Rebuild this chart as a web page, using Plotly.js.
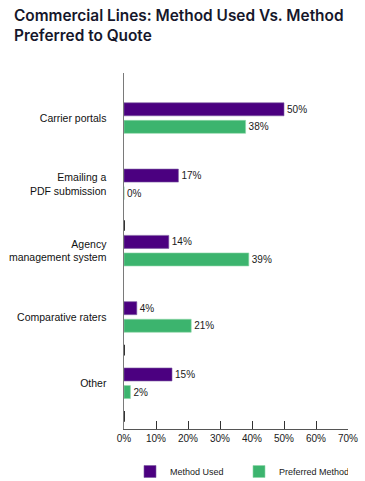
<!DOCTYPE html>
<html>
<head>
<meta charset="utf-8">
<script src="https://cdn.plot.ly/plotly-3.0.1.min.js"></script>
<style>html,body{margin:0;padding:0;background:#fff;}#chart{width:365px;height:481px;}</style>
</head>
<body>
<div id="chart"></div>
<script>
const categories = ["Carrier portals", "Emailing a<br>PDF submission", "Agency<br>management system", "Comparative raters", "Other"];
const methodUsed = [50, 17, 14, 4, 15];
const preferredMethod = [38, 0, 39, 21, 2];
const seriesNames = ["Method Used", "Preferred Method"];
const xTicks = [0, 10, 20, 30, 40, 50, 60, 70];

const labelFont = {family: "Liberation Sans, Arial, sans-serif", size: 10, color: "#1a1a1a"};

const traces = [
  {type: "bar", orientation: "h", name: seriesNames[0], y: categories, x: methodUsed,
   marker: {color: "#4b0080", line: {color: "#7a5aa0", width: 0.6}},
   text: methodUsed.map(v => v + "%"), textposition: "outside", textfont: labelFont, cliponaxis: false,
   hoverinfo: "x+name"},
  {type: "bar", orientation: "h", name: seriesNames[1], y: categories, x: preferredMethod,
   marker: {color: "#3cb46e", line: {color: "#8fd6a8", width: 0.6}},
   text: preferredMethod.map(v => v + "%"), textposition: "outside", textfont: labelFont, cliponaxis: false,
   hoverinfo: "x+name"}
];

const boundaryMarks = [1.62, 3.5, 4.5];

const layout = {
  width: 365, height: 481,
  paper_bgcolor: "#fff", plot_bgcolor: "#fff",
  margin: {l: 124, r: 17, t: 73, b: 52, pad: 0, autoexpand: false},
  title: {text: "Commercial Lines: Method Used Vs. Method<br>Preferred to Quote",
    font: {family: "Inter, Liberation Sans, sans-serif", size: 15.4, color: "#16172b", weight: 600},
    xref: "container", x: 14/365, xanchor: "left", yref: "container", y: 1 - 21/481, yanchor: "middle"},
  barmode: "group", bargap: 0.47, bargroupgap: 0.26,
  showlegend: true,
  legend: {orientation: "h", xref: "container", x: 130/365, xanchor: "left",
    yref: "container", y: 1 - 457/481, yanchor: "top",
    font: {family: "Liberation Sans, Arial, sans-serif", size: 9, color: "#1a1a1a"},
    traceorder: "normal", entrywidth: 64, itemwidth: 30},
  xaxis: {range: [0, 70], tickvals: xTicks, ticktext: xTicks.map(v => v + "%"),
    ticks: "inside", ticklen: 8, tickcolor: "#333", tickwidth: 1,
    showline: true, linecolor: "#555", linewidth: 1, showgrid: false, zeroline: false,
    tickfont: labelFont, fixedrange: true},
  yaxis: {type: "category", range: [4.69, -0.68], showline: true, linecolor: "#7a7a7a", linewidth: 1.5,
    ticks: "", showgrid: false, zeroline: false, ticklabelstandoff: 14,
    tickfont: {family: "Liberation Sans, Arial, sans-serif", size: 10.5, color: "#111"}, fixedrange: true},
  shapes: boundaryMarks.map(b => ({type: "line", xref: "x", yref: "y", x0: 0, x1: 0, y0: b - 0.08, y1: b + 0.08,
    line: {color: "#333", width: 2}}))
};

Plotly.newPlot("chart", traces, layout, {displayModeBar: false, staticPlot: true});
</script>
</body>
</html>
